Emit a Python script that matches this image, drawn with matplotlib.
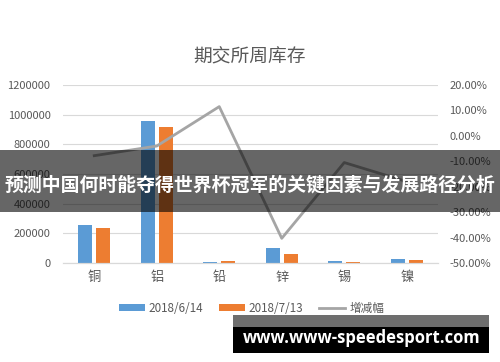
import matplotlib
matplotlib.use('Agg')
import matplotlib.pyplot as plt
from matplotlib.patches import Rectangle
from matplotlib.ticker import FuncFormatter
import numpy as np

plt.rcParams['font.family'] = ['Noto Sans CJK SC', 'DejaVu Sans']

metals = ['铜', '铝', '铅', '锌', '锡', '镍']
stock_0614 = [256000, 957000, 9000, 101000, 11000, 29000]
stock_0713 = [236000, 919000, 13000, 61000, 8000, 22000]
change_pct = [-7.8, -4.0, 11.5, -40.3, -10.5, -18.0]

left_ticks = [0, 200000, 400000, 600000, 800000, 1000000, 1200000]
right_ticks = [-50, -40, -30, -20, -10, 0, 10, 20]

title = '期交所周库存'
banner = '预测中国何时能夺得世界杯冠军的关键因素与发展路径分析'
watermark = 'www.www-speedesport.com'

BLUE = '#5b9bd5'
ORANGE = '#ed7d31'
GRAYLINE = '#a5a5a5'
TXT = '#595959'
GRID = '#d9d9d9'

fig = plt.figure(figsize=(5, 3.62), dpi=100)
ax = fig.add_axes([0.126, 0.2735, 0.75, 0.4917])
ax2 = ax.twinx()

x = np.arange(len(metals))
w = 0.22
off = 0.144
ax.bar(x - off, stock_0614, w, color=BLUE, label='2018/6/14', zorder=2)
ax.bar(x + off, stock_0713, w, color=ORANGE, label='2018/7/13', zorder=2)
ax2.plot(x, change_pct, color=GRAYLINE, lw=2.0, label='增减幅')

ax.set_xlim(-0.5, len(metals) - 0.5)
ax.set_ylim(0, 1200000)
ax.set_yticks(left_ticks)
ax.yaxis.set_major_formatter(FuncFormatter(lambda v, p: '%d' % v))
ax.yaxis.grid(True, color=GRID, lw=0.8, zorder=0)
ax.set_axisbelow(True)
ax.set_xticks(x)
ax.set_xticklabels(metals, fontsize=9.5, color=TXT)
ax.tick_params(axis='x', length=0, pad=6)
ax.tick_params(axis='y', length=0, pad=9, labelsize=8, labelcolor=TXT)

ax2.set_ylim(-50, 20)
ax2.set_yticks(right_ticks)
ax2.yaxis.set_major_formatter(FuncFormatter(lambda v, p: '%.2f%%' % v))
ax2.tick_params(axis='y', length=0, pad=8, labelsize=8, labelcolor=TXT)

for a in (ax, ax2):
    for s in ('top', 'left', 'right'):
        a.spines[s].set_visible(False)
    a.spines['bottom'].set_color(GRID)

fig.text(0.5, 1 - 57 / 362, title, ha='center', va='center', fontsize=13.5, color=TXT)

h1, l1 = ax.get_legend_handles_labels()
h2, l2 = ax2.get_legend_handles_labels()
fig.legend(h1 + h2, l1 + l2, loc='center', bbox_to_anchor=(251.5 / 500, 1 - 308 / 362),
           ncol=3, frameon=False, fontsize=8.4, labelcolor=TXT, handlelength=2.2,
           handleheight=0.55, handletextpad=0.34, columnspacing=1.37)

# overlay banner
fig.add_artist(Rectangle((0, 1 - 212 / 362), 1, 62 / 362, transform=fig.transFigure,
                         color='black', alpha=0.6, lw=0, zorder=10))
fig.text(0.5, 1 - 185 / 362, banner, ha='center', va='center', fontsize=13.6,
         color='white', fontweight='bold', zorder=11)

# watermark
fig.add_artist(Rectangle((233 / 500, 1 - 327 / 362), 256 / 500, 12 / 362,
                         transform=fig.transFigure, color='#6e6e6e', lw=0, zorder=10))
fig.add_artist(Rectangle((233 / 500, 1 - 353 / 362), 256 / 500, 26 / 362,
                         transform=fig.transFigure, color='black', lw=0, zorder=10))
fig.text(361.5 / 500, 1 - 338 / 362, watermark, ha='center', va='center', fontsize=12,
         color='white', fontweight='bold', family=['Open Sans', 'DejaVu Sans'], zorder=11)

fig.savefig('out.png', dpi=100)
